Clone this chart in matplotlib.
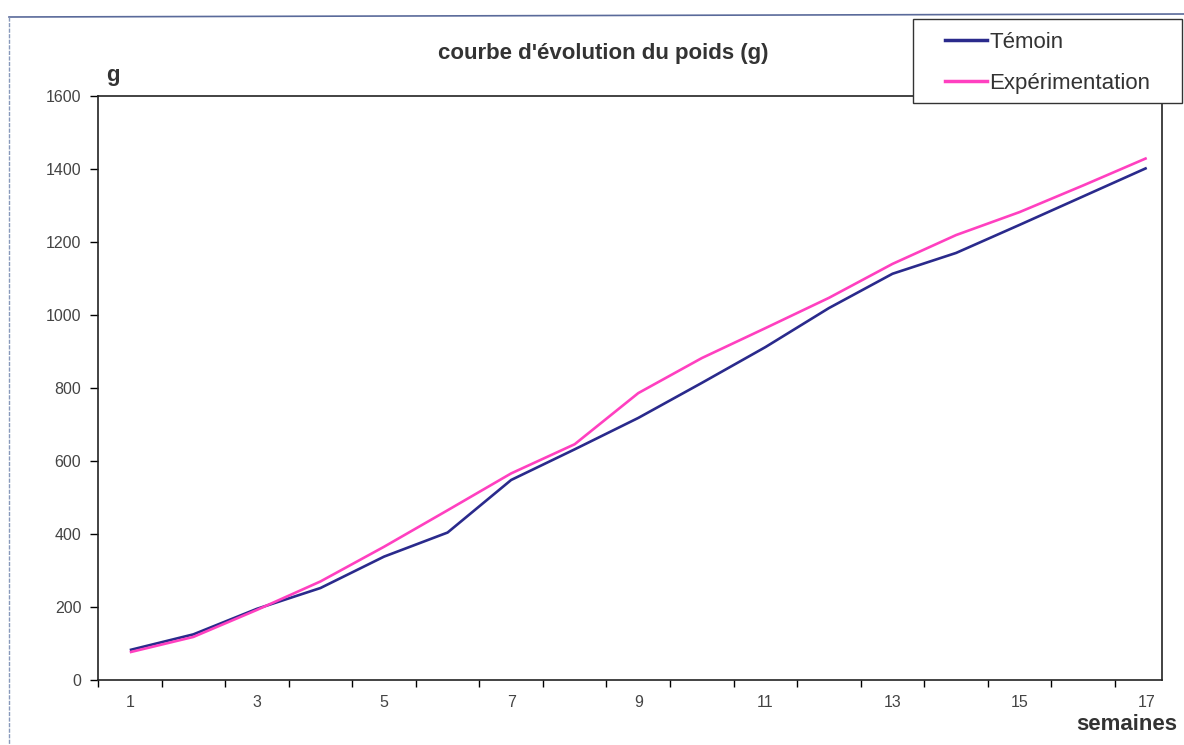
import matplotlib.pyplot as plt
from matplotlib.lines import Line2D
from matplotlib.patches import Rectangle
from matplotlib.ticker import FixedLocator

plt.rcParams["font.family"] = ["Liberation Sans", "DejaVu Sans"]

# weekly weights (g)
weeks = list(range(1, 18))
temoin = [82, 125, 195, 252, 338, 404, 548, 632, 718, 814, 912, 1019,
          1113, 1170, 1247, 1325, 1403]
experimentation = [76, 118, 192, 270, 365, 465, 566, 646, 786, 882, 964, 1047,
                   1140, 1219, 1282, 1355, 1430]
series_names = ["Témoin", "Expérimentation"]
series_colors = ["#2a2a8c", "#ff40c0"]

W, H = 1184, 745
fig = plt.figure(figsize=(W / 100, H / 100), dpi=100)
ax = fig.add_axes([98 / W, 1 - 680 / H, (1162 - 98) / W, (680 - 96) / H])

ax.plot(weeks, temoin, color=series_colors[0], lw=1.9, solid_capstyle="butt")
ax.plot(weeks, experimentation, color=series_colors[1], lw=1.9, solid_capstyle="butt")

ax.set_xlim(0.5, 17.24)
ax.set_ylim(0, 1600)
ax.set_yticks(range(0, 1601, 200))
ax.set_xticks(weeks[::2])
ax.xaxis.set_minor_locator(FixedLocator([w - 0.5 for w in weeks]))
ax.tick_params(axis="x", which="major", length=0, labelsize=11.5, pad=11)
ax.tick_params(axis="x", which="minor", length=5, width=1, direction="out")
ax.tick_params(axis="y", length=6, width=1, labelsize=11.5, pad=6)
for lbl in ax.get_yticklabels() + ax.get_xticklabels():
    lbl.set_color("#444444")
for sp in ax.spines.values():
    sp.set_linewidth(1.2)
    sp.set_color("#222222")

fig.text(603 / W, 1 - 53 / H, "courbe d'évolution du poids (g)", ha="center",
         va="center", fontsize=16, fontweight="bold", color="#333333")
fig.text(113 / W, 1 - 75 / H, "g", ha="center", va="center", fontsize=16,
         fontweight="bold", color="#333333")
fig.text(1127 / W, 1 - 725 / H, "semaines", ha="center", va="center",
         fontsize=16, fontweight="bold", color="#333333")

# outer chart frame (top and left edges visible in the scan)
fig.add_artist(Line2D([9 / W, 1.0], [1 - 17 / H, 1 - 14 / H],
                      transform=fig.transFigure, color="#5a6a9a", lw=1.2))
fig.add_artist(Line2D([9 / W, 9 / W], [1 - 17 / H, 0],
                      transform=fig.transFigure, color="#8899bb", lw=1.0, ls=(0, (3, 1))))

# legend box
fig.add_artist(Rectangle((913 / W, 1 - 103 / H), (1182 - 913) / W, (103 - 19) / H,
                         transform=fig.transFigure, facecolor="white",
                         edgecolor="#333333", lw=1.0, zorder=3))
handles = [Line2D([], [], color=c, lw=2.5) for c in series_colors]
leg = fig.legend(handles, series_names, loc="upper left",
                 bbox_to_anchor=(945 / W, 1 - 32 / H), fontsize=16,
                 frameon=False, handlelength=1.9, handletextpad=0.1,
                 labelspacing=0.9, borderpad=0, borderaxespad=0)
leg.set_zorder(4)
for t in leg.get_texts():
    t.set_color("#333333")

fig.savefig("out.png", dpi=100, facecolor="white")
